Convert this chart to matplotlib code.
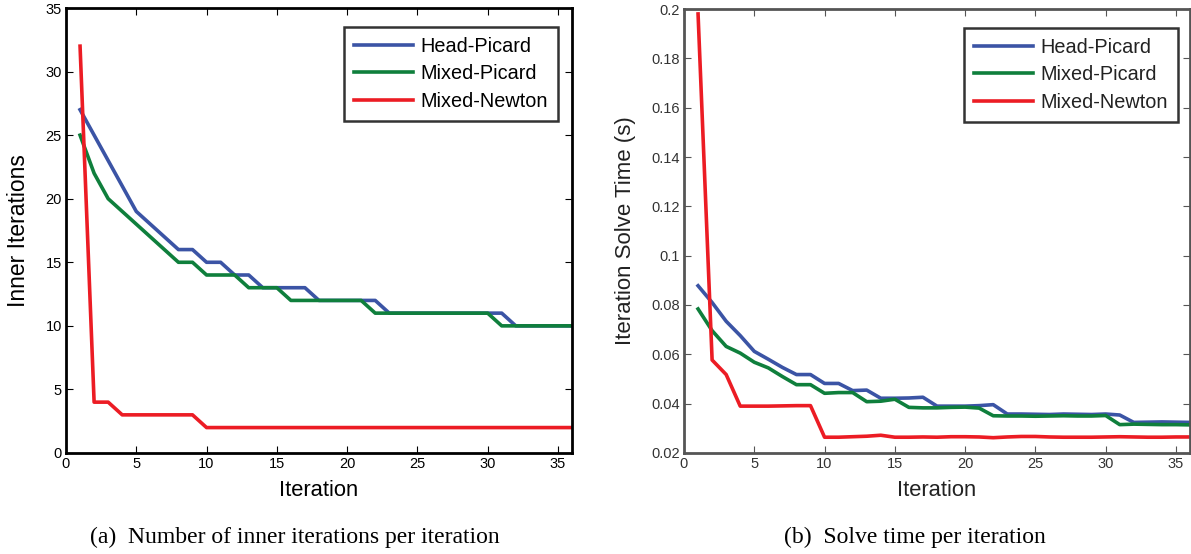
import matplotlib
matplotlib.use('Agg')
import matplotlib.pyplot as plt
import numpy as np
from matplotlib.ticker import FuncFormatter

iters = np.arange(1, 37)

# (a) inner iterations
inner_head_picard = [27, 25, 23, 21, 19, 18, 17, 16, 16, 15, 15, 14, 14, 13, 13, 13, 13, 12,
                     12, 12, 12, 12, 11, 11, 11, 11, 11, 11, 11, 11, 11, 10, 10, 10, 10, 10]
inner_mixed_picard = [25, 22, 20, 19, 18, 17, 16, 15, 15, 14, 14, 14, 13, 13, 13, 12, 12, 12,
                      12, 12, 12, 11, 11, 11, 11, 11, 11, 11, 11, 11, 10, 10, 10, 10, 10, 10]
inner_mixed_newton = [32, 4, 4, 3, 3, 3, 3, 3, 3, 2, 2, 2, 2, 2, 2, 2, 2, 2,
                      2, 2, 2, 2, 2, 2, 2, 2, 2, 2, 2, 2, 2, 2, 2, 2, 2, 2]

# (b) solve time per iteration (s)
time_head_picard = [0.0878, 0.0810, 0.0734, 0.0676, 0.0612, 0.0580, 0.0547, 0.0518, 0.0518,
                    0.0482, 0.0482, 0.0453, 0.0455, 0.0422, 0.0422, 0.0423, 0.0426, 0.0390,
                    0.0390, 0.0390, 0.0392, 0.0396, 0.0358, 0.0358, 0.0357, 0.0356, 0.0358,
                    0.0357, 0.0356, 0.0358, 0.0354, 0.0324, 0.0325, 0.0326, 0.0325, 0.0324]
time_mixed_picard = [0.0784, 0.0696, 0.0632, 0.0605, 0.0568, 0.0545, 0.0510, 0.0477, 0.0477,
                     0.0442, 0.0445, 0.0445, 0.0408, 0.0410, 0.0418, 0.0385, 0.0383, 0.0383,
                     0.0385, 0.0386, 0.0382, 0.0351, 0.0350, 0.0350, 0.0349, 0.0350, 0.0351,
                     0.0350, 0.0350, 0.0352, 0.0315, 0.0317, 0.0316, 0.0315, 0.0315, 0.0314]
time_mixed_newton = [0.198, 0.0577, 0.0518, 0.0390, 0.0390, 0.0390, 0.0391, 0.0392, 0.0392,
                     0.0264, 0.0264, 0.0266, 0.0268, 0.0272, 0.0264, 0.0264, 0.0265, 0.0264,
                     0.0266, 0.0266, 0.0265, 0.0262, 0.0265, 0.0267, 0.0267, 0.0265, 0.0264,
                     0.0264, 0.0264, 0.0265, 0.0266, 0.0265, 0.0264, 0.0264, 0.0265, 0.0265]

labels = ['Head-Picard', 'Mixed-Picard', 'Mixed-Newton']
colors = ['#3b54a5', '#0f7f3c', '#ec1c24']

plt.rcParams['font.family'] = ['Liberation Sans', 'DejaVu Sans']

W, H = 1191, 554
fig = plt.figure(figsize=(W / 100, H / 100), dpi=100)


def rect(x0, y0, x1, y1):
    return [x0 / W, (H - y1) / H, (x1 - x0) / W, (y1 - y0) / H]


def style(ax, spine_color, tick_color):
    ax.tick_params(direction='in', top=True, right=True, length=5, width=0.8,
                   labelsize=10.5, colors=spine_color, labelcolor=tick_color, pad=3)
    for s in ax.spines.values():
        s.set_linewidth(2)
        s.set_color(spine_color)


def add_legend(ax, anchor, text_color):
    leg = ax.legend(loc='upper right', fontsize=14.3, handlelength=3.0, handletextpad=0.35,
                    fancybox=False, edgecolor='black', borderpad=0.5, labelspacing=0.42,
                    bbox_to_anchor=anchor, borderaxespad=0)
    leg.get_frame().set_linewidth(1.8)
    for t in leg.get_texts():
        t.set_color(text_color)
    return leg


ax1 = fig.add_axes(rect(66, 8, 572, 453))
for ys, lab, c in zip([inner_head_picard, inner_mixed_picard, inner_mixed_newton], labels, colors):
    ax1.plot(iters, ys, color=c, lw=2.6, label=lab)
ax1.set_xlim(0, 36)
ax1.set_ylim(0, 35)
ax1.set_xticks(range(0, 36, 5))
ax1.set_yticks(range(0, 36, 5))
style(ax1, 'black', 'black')
ax1.set_xlabel('Iteration', fontsize=15.8, va='center')
ax1.xaxis.set_label_coords(0.5, -37 / 445)
ax1.set_ylabel('Inner Iterations', fontsize=16.5, va='center')
ax1.yaxis.set_label_coords(-47 / 506, 0.5)
add_legend(ax1, (0.972, 0.957), 'black')

ax2 = fig.add_axes(rect(684, 9, 1190, 453))
for ys, lab, c in zip([time_head_picard, time_mixed_picard, time_mixed_newton], labels, colors):
    ax2.plot(iters, ys, color=c, lw=2.6, label=lab)
ax2.set_xlim(0, 36)
ax2.set_ylim(0.02, 0.2)
ax2.set_xticks(range(0, 36, 5))
ax2.set_yticks(np.arange(0.02, 0.2001, 0.02))
ax2.yaxis.set_major_formatter(FuncFormatter(lambda v, p: '%g' % round(v, 3)))
style(ax2, '#555555', '#333333')
ax2.set_xlabel('Iteration', fontsize=15.8, va='center', color='#222222')
ax2.xaxis.set_label_coords(0.5, -37 / 444)
ax2.set_ylabel('Iteration Solve Time (s)', fontsize=16, va='center', color='#222222')
ax2.yaxis.set_label_coords(-59 / 506, 0.5)
add_legend(ax2, (0.976, 0.957), '#222222')

fig.text(295 / W, 1 - 537 / H, '(a)  Number of inner iterations per iteration',
         family=['Liberation Serif'], fontsize=17, ha='center', va='center')
fig.text(915 / W, 1 - 537 / H, '(b)  Solve time per iteration',
         family=['Liberation Serif'], fontsize=17, ha='center', va='center')

fig.savefig('out.png', dpi=100)
